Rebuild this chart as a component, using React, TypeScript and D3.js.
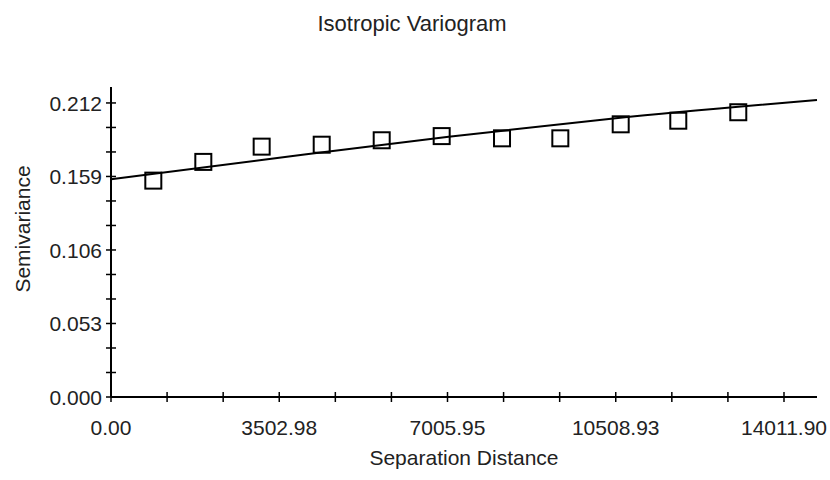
import React, { useEffect, useRef } from 'react';
import * as d3 from 'd3';

// experimental variogram points (lag distance, semivariance)
const lagDistance = [881, 1922, 3137, 4387, 5636, 6885, 8141, 9355, 10612, 11811, 13060];
const semivariance = [0.156, 0.1695, 0.1805, 0.1819, 0.1851, 0.1881, 0.1865, 0.1865, 0.1966, 0.1992, 0.2053];

// fitted model curve
const modelDistance = [0, 3137, 7030, 10509, 14699];
const modelValue = [0.157, 0.1709, 0.1877, 0.201, 0.2142];

const xTickLabels = ['0.00', '3502.98', '7005.95', '10508.93', '14011.90'];
const yTickLabels = ['0.000', '0.053', '0.106', '0.159', '0.212'];

const width = 830;
const height = 480;
const margin = { top: 87, right: 13, bottom: 83, left: 111 };
const font = 'Arial, "Liberation Sans", sans-serif';

export default function App() {
  const ref = useRef<SVGSVGElement>(null);

  useEffect(() => {
    const svg = d3.select(ref.current);
    svg.selectAll('*').remove();

    const innerW = width - margin.left - margin.right;
    const innerH = height - margin.top - margin.bottom;

    const xMajor = xTickLabels.map(Number);
    const yMajor = yTickLabels.map(Number);
    const xStep = (xMajor[1] - xMajor[0]) / 3;
    const yStep = (yMajor[1] - yMajor[0]) / 3;

    const x = d3.scaleLinear().domain([0, 14699]).range([0, innerW]);
    const y = d3.scaleLinear().domain([0, 0.2235]).range([innerH, 0]);

    svg.append('rect').attr('width', width).attr('height', height).attr('fill', 'white');

    const g = svg.append('g').attr('transform', `translate(${margin.left},${margin.top})`);

    //axes lines
    g.append('line')
      .attr('x1', 0).attr('x2', innerW)
      .attr('y1', innerH).attr('y2', innerH)
      .attr('stroke', 'black').attr('stroke-width', 2);
    g.append('line')
      .attr('x1', 0).attr('x2', 0)
      .attr('y1', 0).attr('y2', innerH)
      .attr('stroke', 'black').attr('stroke-width', 2);

    //x ticks, 2 minor between labelled ones
    const xTicks = d3.range(0, 13).map(i => i * xStep);
    g.selectAll('.xt')
      .data(xTicks)
      .enter()
      .append('line')
      .attr('x1', d => x(d)).attr('x2', d => x(d))
      .attr('y1', innerH - 5).attr('y2', innerH + 5)
      .attr('stroke', 'black').attr('stroke-width', 1.5);

    g.selectAll('.xl')
      .data(xTickLabels)
      .enter()
      .append('text')
      .attr('x', d => x(Number(d)))
      .attr('y', innerH + 38)
      .attr('text-anchor', 'middle')
      .attr('font-family', font)
      .attr('font-size', 21)
      .attr('fill', '#222')
      .text(d => d);

    //y ticks
    const yTicks = d3.range(0, 13).map(i => i * yStep);
    g.selectAll('.yt')
      .data(yTicks)
      .enter()
      .append('line')
      .attr('x1', -5).attr('x2', 5)
      .attr('y1', d => y(d)).attr('y2', d => y(d))
      .attr('stroke', 'black').attr('stroke-width', 1.5);

    g.selectAll('.yl')
      .data(yTickLabels)
      .enter()
      .append('text')
      .attr('x', -9)
      .attr('y', d => y(Number(d)))
      .attr('dy', '0.36em')
      .attr('text-anchor', 'end')
      .attr('font-family', font)
      .attr('font-size', 21)
      .attr('fill', '#222')
      .text(d => d);

    //model line
    const line = d3.line<number>()
      .x(d => x(d))
      .y((d, i) => y(modelValue[i]))
      .curve(d3.curveMonotoneX);
    g.append('path')
      .attr('d', line(modelDistance))
      .attr('fill', 'none')
      .attr('stroke', 'black')
      .attr('stroke-width', 2);

    //points
    const s = 16;
    g.selectAll('.pt')
      .data(lagDistance)
      .enter()
      .append('rect')
      .attr('x', d => x(d) - s / 2)
      .attr('y', (d, i) => y(semivariance[i]) - s / 2)
      .attr('width', s)
      .attr('height', s)
      .attr('fill', 'none')
      .attr('stroke', 'black')
      .attr('stroke-width', 2);

    //titles
    svg.append('text')
      .attr('x', 412).attr('y', 31)
      .attr('text-anchor', 'middle')
      .attr('font-family', font)
      .attr('font-size', 22)
      .attr('fill', '#222')
      .text('Isotropic Variogram');

    svg.append('text')
      .attr('x', margin.left + innerW / 2).attr('y', 465)
      .attr('text-anchor', 'middle')
      .attr('font-family', font)
      .attr('font-size', 21)
      .attr('fill', '#222')
      .text('Separation Distance');

    svg.append('text')
      .attr('transform', `translate(30,229) rotate(-90)`)
      .attr('text-anchor', 'middle')
      .attr('font-family', font)
      .attr('font-size', 21)
      .attr('fill', '#222')
      .text('Semivariance');
  }, []);

  return (
    <svg
      ref={ref}
      width={width}
      height={height}
      style={{ position: 'absolute', left: 0, top: 0 }}
    />
  );
}
